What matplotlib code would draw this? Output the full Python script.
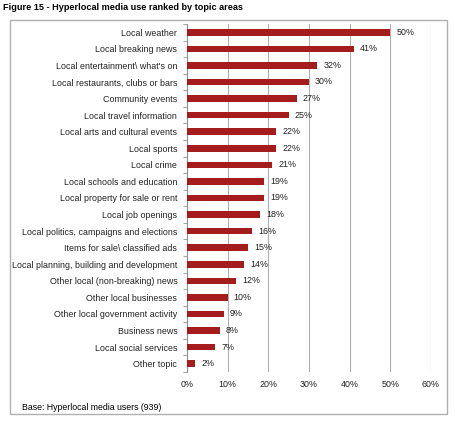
import numpy as np
import matplotlib.pyplot as plt
from matplotlib.patches import Rectangle

plt.rcParams['font.family'] = ['Liberation Sans', 'DejaVu Sans']

topics = ["Local weather", "Local breaking news", "Local entertainment\\ what's on",
          "Local restaurants, clubs or bars", "Community events", "Local travel information",
          "Local arts and cultural events", "Local sports", "Local crime",
          "Local schools and education", "Local property for sale or rent",
          "Local job openings", "Local politics, campaigns and elections",
          "Items for sale\\ classified ads", "Local planning, building and development",
          "Other local (non-breaking) news", "Other local businesses",
          "Other local government activity", "Business news", "Local social services",
          "Other topic"]
share = [50, 41, 32, 30, 27, 25, 22, 22, 21, 19, 19, 18, 16, 15, 14, 12, 10, 9, 8, 7, 2]
xticks = [0, 10, 20, 30, 40, 50, 60]

fs = 6.4
fig = plt.figure(figsize=(4.55, 4.22), dpi=100)
fig.patches.append(Rectangle((10/455, 1-414/422), 437/455, 394/422, transform=fig.transFigure,
                             fill=False, edgecolor='#b0b0b0', linewidth=1))
fig.text(3/455, 1-8/422, "Figure 15 - Hyperlocal media use ranked by topic areas",
         fontsize=6.6, fontweight='bold', va='center', ha='left')
fig.text(22/455, 1-408/422, "Base: Hyperlocal media users (939)", fontsize=6.3, va='center')

ax = fig.add_axes([187/455, 1-372/422, 244/455, 348/422])
y = np.arange(len(topics))
ax.barh(y, share, height=0.4, color='#a51c1c', zorder=3)
for yi, v in zip(y, share):
    ax.text(v + 1.5, yi, f"{v}%", va='center', ha='left', fontsize=fs, color='#222222')

ax.set_ylim(len(topics) - 0.5, -0.5)
ax.set_xlim(0, 60)
ax.set_yticks(y)
ax.set_yticklabels(topics, fontsize=fs, color='#222222')
ax.set_yticks(np.arange(-0.5, len(topics)), minor=True)
ax.tick_params(axis='y', which='major', length=0, pad=7)
ax.tick_params(axis='y', which='minor', length=3, color='#909090')
ax.set_xticks(xticks)
ax.set_xticklabels([f"{t}%" for t in xticks], fontsize=fs, color='#222222')
ax.tick_params(axis='x', length=0, pad=6)
ax.grid(axis='x', color='#b0b0b0', linewidth=0.8, zorder=0)
for s in ['top', 'right', 'bottom']:
    ax.spines[s].set_visible(False)
ax.spines['left'].set_color('#909090')

fig.savefig('out.png', dpi=100)
